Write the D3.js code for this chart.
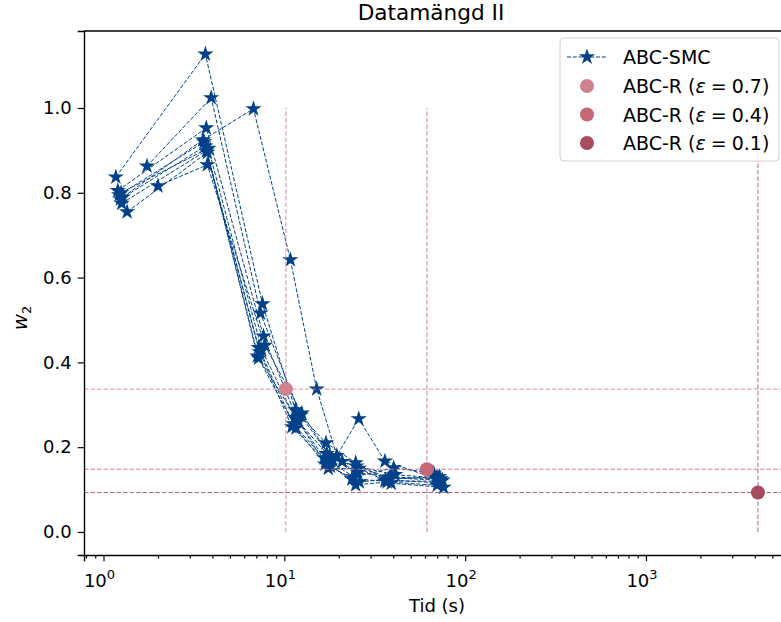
<!DOCTYPE html>
<html>
<head>
<meta charset="utf-8">
<script src="https://cdn.jsdelivr.net/npm/d3@7"></script>
<style>
  body { margin: 0; background: #fff; }
  svg { display: block; font-family: "DejaVu Sans", sans-serif; }
</style>
</head>
<body>
<div id="chart"></div>
<script>
const width = 781;
const height = 622;

// ABC-SMC runs: time (s) and w2 for each generation
const smcTime = [
  [1.17, 3.66, 7.57, 11.5, 17.0, 24.8, 36.3, 71.6],
  [1.74, 3.94, 7.38, 12.3, 17.8, 25.5, 38.5, 73],
  [1.2, 3.7, 7.67, 11.8, 16.6, 24.2, 40.3, 67],
  [1.22, 3.6, 7.2, 11.2, 17.3, 24.8, 37, 70],
  [1.24, 3.65, 7.3, 11.0, 18.0, 23.6, 36, 74],
  [1.26, 3.72, 7.1, 12.0, 17.5, 25.8, 39, 76],
  [1.35, 3.75, 7.2, 11.6, 16.8, 26.0, 37.5, 72],
  [2.0, 3.75, 7.8, 12.5, 18.5, 25.0, 41, 69],
  [1.25, 3.8, 7.5, 11.4, 17.2, 20.9, 38, 75],
  [1.28, 3.55, 6.75, 10.8, 15.1, 19.5, 25.8, 36, 70]
];
const smcW2 = [
  [0.837, 1.127, 0.538, 0.288, 0.21, 0.163, 0.123, 0.116],
  [0.863, 1.024, 0.516, 0.275, 0.18, 0.14, 0.13, 0.125],
  [0.805, 0.953, 0.462, 0.265, 0.175, 0.13, 0.151, 0.139],
  [0.795, 0.92, 0.435, 0.255, 0.165, 0.111, 0.118, 0.11],
  [0.785, 0.91, 0.425, 0.248, 0.155, 0.125, 0.12, 0.12],
  [0.775, 0.90, 0.415, 0.26, 0.15, 0.15, 0.115, 0.105],
  [0.755, 0.895, 0.41, 0.245, 0.16, 0.118, 0.125, 0.13],
  [0.816, 0.866, 0.44, 0.28, 0.17, 0.155, 0.135, 0.128],
  [0.80, 0.905, 0.43, 0.27, 0.185, 0.166, 0.128, 0.122],
  [0.79, 0.925, 0.998, 0.642, 0.337, 0.18, 0.267, 0.167, 0.125]
];

// ABC-R results
const rEps = ["0.7", "0.4", "0.1"];
const rTime = [10.2, 61.5, 4160];
const rW2 = [0.337, 0.148, 0.093];
const rColors = ["#d0818f", "#c56777", "#a94b5e"];

const yTicks = [0, 0.2, 0.4, 0.6, 0.8, 1.0];
const xMajor = [1, 10, 100, 1000];

const smcColor = "#00428a";

const margin = { left: 84, top: 31, right: 792, bottom: 555 };

const svg = d3.select("#chart")
  .append("svg")
  .attr("width", width)
  .attr("height", height);

const x = d3.scaleLog()
  .domain([0.78, 6420])
  .range([margin.left, margin.right]);

const y = d3.scaleLinear()
  .domain([-0.0543, 1.1816])
  .range([margin.bottom, margin.top]);

// SMC runs
const line = d3.line().x(d => x(d[0])).y(d => y(d[1]));
const runs = smcTime.map((ts, i) => ts.map((t, j) => [t, smcW2[i][j]]));

const star = d3.symbol().type(d3.symbolStar).size(82);

runs.forEach(run => {
  svg.append("path")
    .datum(run)
    .attr("d", line)
    .attr("fill", "none")
    .attr("stroke", smcColor)
    .attr("stroke-width", 1)
    .attr("stroke-dasharray", "4,1.8");
  svg.selectAll(null)
    .data(run)
    .join("path")
    .attr("d", star)
    .attr("transform", d => `translate(${x(d[0])},${y(d[1])})`)
    .attr("fill", smcColor);
});

// reference lines for ABC-R
rTime.forEach((t, i) => {
  svg.append("line")
    .attr("x1", margin.left).attr("x2", margin.right)
    .attr("y1", y(rW2[i])).attr("y2", y(rW2[i]))
    .attr("stroke", rColors[i])
    .attr("stroke-opacity", 0.85)
    .attr("stroke-width", 1)
    .attr("stroke-dasharray", "4.5,2");
  svg.append("line")
    .attr("x1", x(t)).attr("x2", x(t))
    .attr("y1", y(0)).attr("y2", y(1))
    .attr("stroke", rColors[i])
    .attr("stroke-opacity", 0.85)
    .attr("stroke-width", 1)
    .attr("stroke-dasharray", "4.5,2");
});

svg.selectAll(".rpt")
  .data(rTime)
  .join("circle")
  .attr("class", "rpt")
  .attr("cx", d => x(d))
  .attr("cy", (d, i) => y(rW2[i]))
  .attr("r", 7)
  .attr("fill", (d, i) => rColors[i]);

// axes
const yAxis = svg.append("g")
  .attr("transform", `translate(${margin.left},0)`)
  .call(d3.axisLeft(y).tickValues(yTicks).tickFormat(d3.format(".1f")).tickSize(6.3).tickPadding(6));

const minors = [];
for (let e = -1; e <= 3; e++) {
  for (let k = 2; k <= 9; k++) {
    const v = k * Math.pow(10, e);
    if (v >= 0.78 && v <= 6420) minors.push(v);
  }
}

const xAxis = svg.append("g")
  .attr("transform", `translate(0,${margin.bottom})`)
  .call(d3.axisBottom(x).tickValues(xMajor).tickFormat("").tickSize(6.3));

svg.append("g")
  .attr("transform", `translate(0,${margin.bottom})`)
  .call(d3.axisBottom(x).tickValues(minors).tickFormat("").tickSize(3.6))
  .call(g => g.select(".domain").remove());

[yAxis, xAxis].forEach(g => {
  g.select(".domain").attr("stroke", "#000").attr("stroke-width", 1.4);
  g.selectAll("text").attr("font-size", 18).attr("fill", "#000")
    .attr("font-family", "DejaVu Sans");
});
svg.selectAll(".tick line").attr("stroke", "#000").attr("stroke-width", 1.2);

// x tick labels as 10^n
xMajor.forEach(v => {
  const t = svg.append("text")
    .attr("x", x(v) - 4)
    .attr("y", 587)
    .attr("text-anchor", "middle")
    .attr("font-size", 18);
  t.append("tspan").text("10");
  t.append("tspan")
    .attr("dy", -8)
    .attr("font-size", 13)
    .text(Math.round(Math.log10(v)));
});

// top spine
svg.append("line")
  .attr("x1", margin.left).attr("x2", margin.right)
  .attr("y1", margin.top).attr("y2", margin.top)
  .attr("stroke", "#000").attr("stroke-width", 1.4);

// labels
svg.append("text")
  .attr("x", 431)
  .attr("y", 20)
  .attr("text-anchor", "middle")
  .attr("font-size", 21.6)
  .text("Datamängd II");

svg.append("text")
  .attr("x", 437)
  .attr("y", 612)
  .attr("text-anchor", "middle")
  .attr("font-size", 18)
  .text("Tid (s)");

const yl = svg.append("text")
  .attr("transform", "translate(27,318) rotate(-90)")
  .attr("text-anchor", "middle")
  .attr("font-size", 20);
yl.append("tspan").attr("font-style", "italic").text("w");
yl.append("tspan").attr("dy", 4).attr("font-size", 13).text("2");

// legend
const lg = svg.append("g");
lg.append("rect")
  .attr("x", 560).attr("y", 38)
  .attr("width", 219).attr("height", 123)
  .attr("rx", 4)
  .attr("fill", "#fff").attr("fill-opacity", 0.85)
  .attr("stroke", "#d0d0d0").attr("stroke-width", 1);

lg.append("line")
  .attr("x1", 567).attr("x2", 607)
  .attr("y1", 57).attr("y2", 57)
  .attr("stroke", smcColor).attr("stroke-width", 1)
  .attr("stroke-dasharray", "4,1.8");
lg.append("path")
  .attr("d", star)
  .attr("transform", "translate(587,57)")
  .attr("fill", smcColor);
lg.append("text")
  .attr("x", 623).attr("y", 64)
  .attr("font-size", 19)
  .text("ABC-SMC");

rEps.forEach((e, i) => {
  const yy = 86 + i * 28.5;
  lg.append("circle")
    .attr("cx", 587).attr("cy", yy)
    .attr("r", 7)
    .attr("fill", rColors[i]);
  const t = lg.append("text")
    .attr("x", 623).attr("y", yy + 7)
    .attr("font-size", 19);
  t.append("tspan").text("ABC-R (");
  t.append("tspan").attr("font-style", "italic").text("ε");
  t.append("tspan").attr("dx", 5).text("=");
  t.append("tspan").attr("dx", 5).text(e + ")");
});
</script>
</body>
</html>
